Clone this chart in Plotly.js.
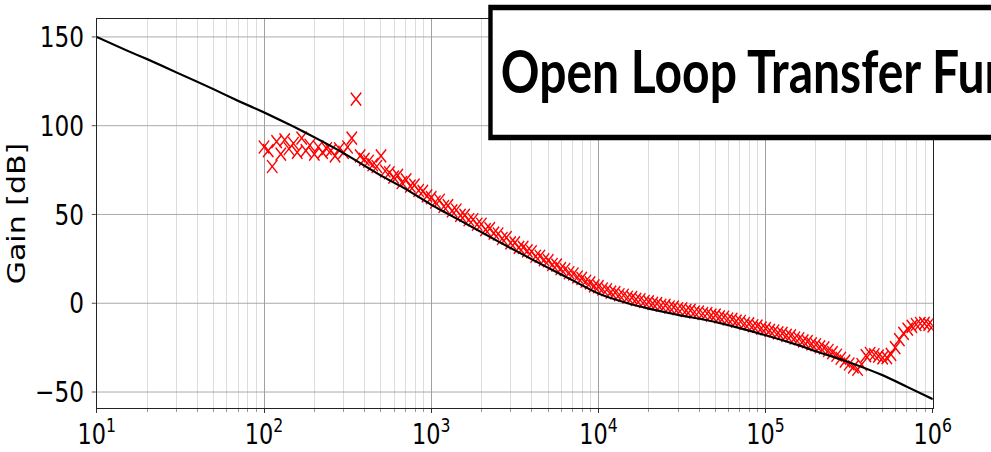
<!DOCTYPE html>
<html>
<head>
<meta charset="utf-8">
<script src="https://cdn.plot.ly/plotly-3.0.1.min.js"></script>
<style>
  html, body { margin: 0; padding: 0; background: #fff; width: 991px; height: 452px; overflow: hidden; }
  /* the figure is laid out wide and condensed horizontally */
  #chart { width: 1239px; height: 452px; transform: scaleX(0.8); transform-origin: 0 0; }
</style>
</head>
<body>
<div id="chart"></div>
<script>
// Model open-loop gain (solid black curve)
const modelFreq = [10, 15, 20, 30, 50, 70, 100, 150, 200, 300, 500, 700, 1000, 1500, 2000, 3000, 5000, 7000,
  10000, 15000, 20000, 30000, 50000, 70000, 100000, 150000, 200000, 300000, 500000, 700000, 1000000];
const modelGain = [150, 142.5, 137.5, 130, 120.5, 114, 107.5, 99.5, 93.5, 84.5, 72, 64.5, 55.5, 46.5, 40, 31, 20, 13,
  5.5, 0, -3, -6.5, -10.5, -14, -18, -23, -27, -32.5, -40.5, -47, -54];

// Measured gain (red crosses)
const measFreq = [
  100, 106, 112, 119, 126, 133, 141, 150, 158, 168, 178, 188, 200, 211, 224, 237, 251, 266, 282, 299,
  316, 335, 355, 376, 398, 422, 447, 473, 501, 531, 562, 596, 631, 668, 708, 750, 794, 841, 891, 944,
  1000, 1059, 1122, 1189, 1259, 1334, 1413, 1496, 1585, 1679, 1778, 1884, 1995, 2113, 2239, 2371, 2512, 2661, 2818, 2985,
  3162, 3350, 3548, 3758, 3981, 4217, 4467, 4732, 5012, 5309, 5623, 5957, 6310, 6683, 7079, 7499, 7943, 8414, 8913, 9441,
  10000, 10593, 11220, 11885, 12589, 13335, 14125, 14962, 15849, 16788, 17783, 18836, 19953, 21135, 22387, 23714, 25119, 26607, 28184, 29854,
  31623, 33497, 35481, 37584, 39811, 42170, 44668, 47315, 50119, 53088, 56234, 59566, 63096, 66834, 70795, 74989, 79433, 84140, 89125, 94406,
  100000, 105925, 112202, 118850, 125893, 133352, 141254, 149624, 158489, 167880, 177828, 188365, 199526, 211349, 223872, 237137, 251189, 266073, 281838, 298538,
  316228, 334965, 354813, 375837, 398107, 421697, 446684, 473151, 501187, 530884, 562341, 595662, 630957, 668344, 707946, 749894, 794328, 841395, 891251, 944061,
  1000000];
const measGain = [
  88, 86, 77, 91, 84, 92, 87, 90, 85, 93, 86, 89, 84, 88, 85, 87, 86, 83, 87, 85,
  88, 93, 115, 83, 81, 80, 78, 77, 83, 74.5, 73.5, 71, 72, 68, 69.5, 66, 66.5, 63.5, 63, 60.5,
  59.5, 57, 58, 54.5, 55, 52, 52.5, 49.5, 49.5, 47, 47, 44.5, 44.5, 41.5, 42, 39.5, 39, 36.5, 37, 34,
  34, 31.5, 31.5, 29.5, 29, 26.5, 26.5, 24.5, 24, 21.8, 21.5, 19.5, 19, 17.2, 16.5, 14.8, 14, 12.4, 11.5, 9.8,
  9.4, 8, 7.6, 6.3, 6, 4.8, 4.5, 3.4, 3.2, 2.2, 2, 1, 0.8, -0.1, -0.2, -1.1, -1.2, -2.1, -2.2, -3.1,
  -3.1, -4, -4, -4.9, -4.9, -5.8, -5.8, -6.7, -6.7, -7.7, -7.9, -8.9, -9.1, -10.1, -10.3, -11.4, -11.6, -12.7, -12.9, -14,
  -14.3, -15.3, -15.6, -16.7, -17, -18.1, -18.4, -19.6, -20, -21.2, -21.6, -22.9, -23.4, -24.6, -25.1, -26.6, -27.8, -29.3, -31, -32.6,
  -34.2, -35.8, -37.2, -34.5, -29.5, -28.3, -29, -29.8, -30.8, -30.6, -28.8, -25, -20.5, -17, -14.6, -13, -12, -11.4, -11.3, -11.9,
  -12.8];

// Axis ticks
const xTickVals = [10, 100, 1000, 10000, 100000, 1000000];
const xTickText = ['10<sup>1</sup>', '10<sup>2</sup>', '10<sup>3</sup>', '10<sup>4</sup>', '10<sup>5</sup>', '10<sup>6</sup>'];
const xMinorVals = [20, 30, 40, 50, 60, 70, 80, 90,
  200, 300, 400, 500, 600, 700, 800, 900,
  2000, 3000, 4000, 5000, 6000, 7000, 8000, 9000,
  20000, 30000, 40000, 50000, 60000, 70000, 80000, 90000,
  200000, 300000, 400000, 500000, 600000, 700000, 800000, 900000];
const yTickVals = [-50, 0, 50, 100, 150];
const yTickText = ['\u221250', '0', '50', '100', '150'];

const titleText = 'Open Loop Transfer Function';
const yTitle = 'Gain [dB]';

const traces = [
  {
    x: measFreq, y: measGain, type: 'scatter', mode: 'markers',
    marker: { symbol: 'x-thin-open', size: 13, color: '#ff0000', line: { color: '#ff0000', width: 1.6 } },
    hoverinfo: 'skip'
  },
  {
    x: modelFreq, y: modelGain, type: 'scatter', mode: 'lines',
    line: { color: '#000000', width: 2.2, shape: 'spline', smoothing: 0.6 },
    hoverinfo: 'skip'
  }
];

const layout = {
  width: 1239, height: 452,
  margin: { l: 121, r: 73, t: 19, b: 44 },
  paper_bgcolor: '#ffffff', plot_bgcolor: '#ffffff',
  showlegend: false,
  font: { family: 'DejaVu Sans', color: '#000000', size: 29 },
  xaxis: {
    type: 'log', range: [1, 6], autorange: false,
    tickmode: 'array', tickvals: xTickVals, ticktext: xTickText,
    tickfont: { size: 28, family: 'DejaVu Sans', color: '#000' },
    ticks: 'outside', ticklen: 4, tickwidth: 1.25, tickcolor: '#333',
    ticklabelstandoff: -3,
    showgrid: true, gridcolor: '#a0a0a0', gridwidth: 1.25,
    showline: true, linecolor: '#222', linewidth: 1.25, mirror: true,
    zeroline: false,
    minor: { tickmode: 'array', tickvals: xMinorVals, ticks: 'outside', ticklen: 3, tickcolor: '#999',
             showgrid: true, gridcolor: '#dcdcdc', gridwidth: 1.25 }
  },
  yaxis: {
    range: [-59, 160.1], autorange: false,
    tickmode: 'array', tickvals: yTickVals, ticktext: yTickText,
    tickfont: { size: 29, family: 'DejaVu Sans', color: '#000' },
    ticks: 'outside', ticklen: 5, tickcolor: '#333',
    ticklabelstandoff: 4,
    showgrid: true, gridcolor: '#a0a0a0', gridwidth: 1,
    showline: true, linecolor: '#222', linewidth: 1.25, mirror: true,
    zeroline: false,
    title: { text: yTitle, font: { size: 30, family: 'DejaVu Sans', color: '#000' }, standoff: 3 }
  },
  shapes: [
    { type: 'rect', xref: 'paper', yref: 'paper', x0: 0.4709, x1: 1.3, y0: 0.6954, y1: 1.0296,
      line: { color: '#000000', width: 5.5 }, fillcolor: '#ffffff', layer: 'above' }
  ],
  annotations: [
    { xref: 'paper', yref: 'paper', x: 0.481, y: 0.8697, xanchor: 'left', yanchor: 'middle',
      text: titleText, showarrow: false,
      font: { family: 'Lato', size: 60, color: '#000000', weight: 'bold' } }
  ]
};

Plotly.newPlot('chart', traces, layout, { staticPlot: true, displayModeBar: false });
</script>
</body>
</html>
